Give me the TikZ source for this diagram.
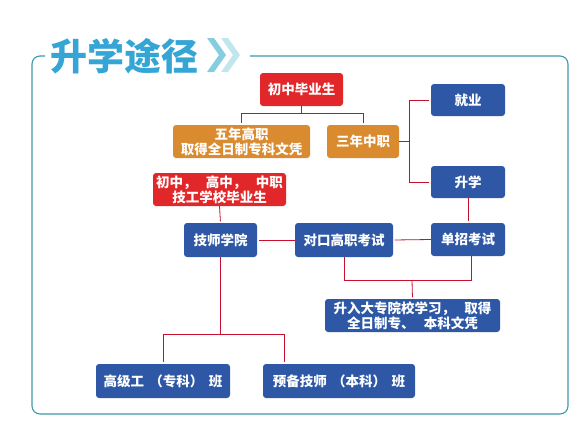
\documentclass[tikz,border=0pt]{standalone}
\usepackage{fontspec}
\setmainfont{Noto Sans CJK SC}
\definecolor{boxred}{HTML}{E2272A}
\definecolor{boxorange}{HTML}{DA8B2F}
\definecolor{boxblue}{HTML}{2E58A6}
\definecolor{linered}{HTML}{C8102E}
\definecolor{frameteal}{HTML}{3E9AAB}
\definecolor{titleblue}{HTML}{35A5D6}
\definecolor{chevA}{HTML}{86CDE0}
\definecolor{chevB}{HTML}{C2E6EE}
\newcommand{\gapc}{\hspace{0.7em}}
\tikzset{
  box/.style={rounded corners=3pt, text=white, inner sep=0pt, align=center,
    font=\bfseries\fontsize{13.5}{15}\selectfont},
  redbox/.style={box, fill=boxred},
  orangebox/.style={box, fill=boxorange},
  bluebox/.style={box, fill=boxblue},
  conn/.style={draw=linered, line width=0.8pt, shorten >=1.5pt},
  frameline/.style={draw=frameteal, line width=1.1pt, rounded corners=8pt},
}
\begin{document}
\begin{tikzpicture}[x=1pt, y=-1pt]
\useasboundingbox (0,0) rectangle (587,432);
% frame
\draw[frameline] (250,56) -- (568,56) -- (568,414) -- (32,414) -- (32,56) -- (45,56);
% title
\node[anchor=west, text=titleblue, font=\bfseries\fontsize{37}{37}\selectfont, inner sep=0pt] (title) at (50,56) {升学途径};
\fill[chevA] (207,38) -- (214,38) -- (226,55) -- (214,72) -- (207,72) -- (219,55) -- cycle;
\fill[chevB] (221,38) -- (228,38) -- (240,55) -- (228,72) -- (221,72) -- (233,55) -- cycle;
% nodes
\node[redbox, minimum width=83pt, minimum height=33pt] (c1) at (301.5,89.5) {初中毕业生};
\node[orangebox, minimum width=137pt, minimum height=33pt] (wn) at (241.5,141.5) {五年高职\\取得全日制专科文凭};
\node[orangebox, minimum width=72pt, minimum height=33pt] (sn) at (363,141.5) {三年中职};
\node[bluebox, minimum width=74pt, minimum height=32pt] (jy) at (468,100) {就业};
\node[bluebox, minimum width=74pt, minimum height=32pt] (sx) at (468,182) {升学};
\node[bluebox, minimum width=74pt, minimum height=33pt] (dz) at (468,239.5) {单招考试};
\node[redbox, minimum width=133pt, minimum height=33pt] (gx) at (219.5,189.5) {初中，\gapc 高中，\gapc 中职\\技工学校毕业生};
\node[bluebox, minimum width=73pt, minimum height=34pt] (js) at (220.5,240) {技师学院};
\node[bluebox, minimum width=98pt, minimum height=34pt] (dk) at (344,240) {对口高职考试};
\node[bluebox, minimum width=175pt, minimum height=33pt] (sr) at (412.5,315.5) {升入大专院校学习，\gapc 取得\\全日制专、\gapc 本科文凭};
\node[bluebox, minimum width=134pt, minimum height=34pt] (gj) at (163,381) {高级工\hspace{0.4em}（专科）\hspace{0.4em}班};
\node[bluebox, minimum width=152pt, minimum height=34pt] (yb) at (339,381) {预备技师\hspace{0.4em}（本科）\hspace{0.4em}班};
% junctions
\coordinate (j1) at (301.5,113);
\coordinate (j2) at (409,141.5);
\coordinate (j3) at (412,280);
\coordinate (j4) at (220.5,334);
% connectors
\draw[conn, shorten >=0pt] (c1.south) -- (j1);
\draw[conn] (j1) -| (wn.north);
\draw[conn] (j1) -| (sn.north);
\draw[conn, shorten >=0pt] (sn.east) -- (j2);
\draw[conn] (j2) |- (jy.west);
\draw[conn] (j2) |- (sx.west);
\draw[conn] (sx.south) -- (dz.north);
\draw[conn] (dz.west) -- (dk.east);
\draw[conn] (dk.west) -- (js.east);
\draw[conn] (gx.south) -- (js.north);
\draw[conn, shorten >=0pt] (dk.south) |- (j3);
\draw[conn, shorten >=0pt] ([xshift=3pt]dz.south) |- (j3);
\draw[conn] (j3) -- (sr.north);
\draw[conn, shorten >=0pt] (js.south) -- (j4);
\draw[conn] (j4) -| (gj.north);
\draw[conn] (j4) -| ([xshift=-55pt]yb.north);
\end{tikzpicture}
\end{document}
